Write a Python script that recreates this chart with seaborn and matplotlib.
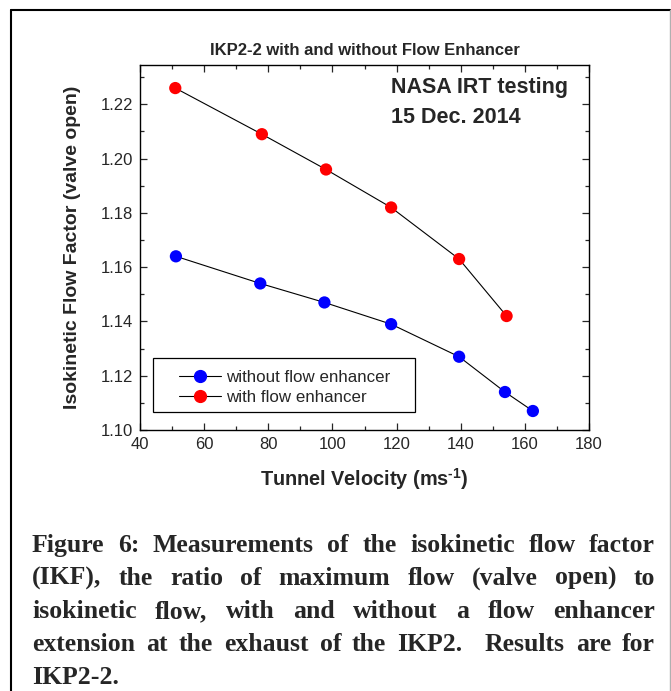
import matplotlib
matplotlib.use("Agg")
import matplotlib.pyplot as plt
import numpy as np
import pandas as pd
import seaborn as sns
from matplotlib.lines import Line2D
from matplotlib.patches import Rectangle
from matplotlib.ticker import MultipleLocator, FormatStrFormatter

# data
velocity_without = [51.2, 77.5, 97.5, 118.3, 139.5, 153.8, 162.5]
ikf_without = [1.164, 1.154, 1.147, 1.139, 1.127, 1.114, 1.107]
velocity_with = [51.0, 78.0, 98.0, 118.3, 139.5, 154.3]
ikf_with = [1.226, 1.209, 1.196, 1.182, 1.163, 1.142]
series_names = ["without flow enhancer", "with flow enhancer"]
series_colors = ["#0000ff", "#ff0000"]

caption_lines = [
    "Figure 6: Measurements of the isokinetic flow factor",
    "(IKF), the ratio of maximum flow (valve open) to",
    "isokinetic flow, with and without a flow enhancer",
    "extension at the exhaust of the IKP2.  Results are for",
    "IKP2-2.",
]

df = pd.DataFrame({
    "velocity": velocity_without + velocity_with,
    "ikf": ikf_without + ikf_with,
    "series": [series_names[0]] * len(velocity_without) + [series_names[1]] * len(velocity_with),
})

sns.set_style("ticks")
plt.rcParams["font.family"] = ["Liberation Sans", "DejaVu Sans"]
plt.rcParams["mathtext.fontset"] = "custom"
plt.rcParams["mathtext.rm"] = "Liberation Sans:bold"
plt.rcParams["mathtext.bf"] = "Liberation Sans:bold"

W, H = 671, 691
fig = plt.figure(figsize=(W / 100, H / 100), dpi=100)
ax = fig.add_axes([140 / W, 1 - 430 / H, 449 / W, 365 / H])

# black connecting lines, coloured markers on top
for name in series_names:
    sub = df[df["series"] == name]
    sns.lineplot(data=sub, x="velocity", y="ikf", color="black", lw=0.8,
                 sort=False, ax=ax, legend=False)
sns.scatterplot(data=df, x="velocity", y="ikf", hue="series", palette=series_colors,
                hue_order=series_names, s=78, edgecolor="none", ax=ax, legend=False, zorder=3)

ax.set_xlim(40, 180)
ax.set_ylim(1.10, 1.2345)
ax.xaxis.set_major_locator(MultipleLocator(20))
ax.xaxis.set_minor_locator(MultipleLocator(10))
ax.yaxis.set_major_locator(MultipleLocator(0.02))
ax.yaxis.set_minor_locator(MultipleLocator(0.01))
ax.yaxis.set_major_formatter(FormatStrFormatter("%.2f"))
ax.tick_params(which="both", direction="in", top=True, right=True, width=0.9,
               labelsize=12, pad=5)
ax.tick_params(which="major", length=5)
ax.tick_params(which="minor", length=3)
for sp in ax.spines.values():
    sp.set_visible(True)
    sp.set_linewidth(1.0)
    sp.set_color("black")

ax.set_xlabel("Tunnel Velocity (ms$^{\\text{-1}}$)", fontsize=14.3, fontweight="bold", labelpad=10)
ax.set_ylabel("Isokinetic Flow Factor (valve open)", fontsize=14, fontweight="bold", labelpad=14)
ax.set_title("IKP2-2 with and without Flow Enhancer", fontsize=12, fontweight="bold", pad=7)

ax.text(0.559, 0.923, "NASA IRT testing", transform=ax.transAxes, fontsize=15.5,
        fontweight="bold", va="baseline")
ax.text(0.559, 0.841, "15 Dec. 2014", transform=ax.transAxes, fontsize=15.5,
        fontweight="bold", va="baseline")

# legend: entries from the series, box drawn to the reference size
ax.add_patch(Rectangle((13 / 449, 18 / 365), 262 / 449, 54 / 365, transform=ax.transAxes,
                       facecolor="white", edgecolor="black", lw=0.9, zorder=4))
handles = [Line2D([], [], color="black", lw=0.8, marker="o", markersize=8.5,
                  markerfacecolor=c, markeredgecolor=c) for c in series_colors]
leg = ax.legend(handles, series_names, loc="upper left", bbox_to_anchor=(39 / 449, 60 / 365),
                fontsize=12.2, frameon=False, handlelength=2.48, handletextpad=0.3,
                borderpad=0, labelspacing=0.3, borderaxespad=0)
leg.set_zorder(5)

# figure border
fig.add_artist(Line2D([11 / W, 11 / W], [0, 1 - 10 / H], color="black", lw=1.5))
fig.add_artist(Line2D([11 / W, 670 / W], [1 - 10 / H, 1 - 10 / H], color="black", lw=1.5))
fig.add_artist(Line2D([669.5 / W, 669.5 / W], [0, 1 - 10 / H], color="#b0b0b0", lw=1.0))

# justified caption
renderer = fig.canvas.get_renderer()
x0, x1 = 32, 655
for i, line in enumerate(caption_lines):
    yb = 1 - (552 + i * 33.0) / H
    words = line.split(" ")
    texts = [fig.text(0, yb, w, fontsize=18.5, fontweight="bold", va="baseline",
                      family=["Liberation Serif", "DejaVu Serif"]) for w in words]
    widths = [t.get_window_extent(renderer).width for t in texts]
    if i < len(caption_lines) - 1 and len(words) > 1:
        gap = (x1 - x0 - sum(widths)) / (len(words) - 1)
    else:
        gap = 5
    x = x0
    for t, w in zip(texts, widths):
        t.set_x(x / W)
        x += w + gap

fig.savefig("out.png", dpi=100)
